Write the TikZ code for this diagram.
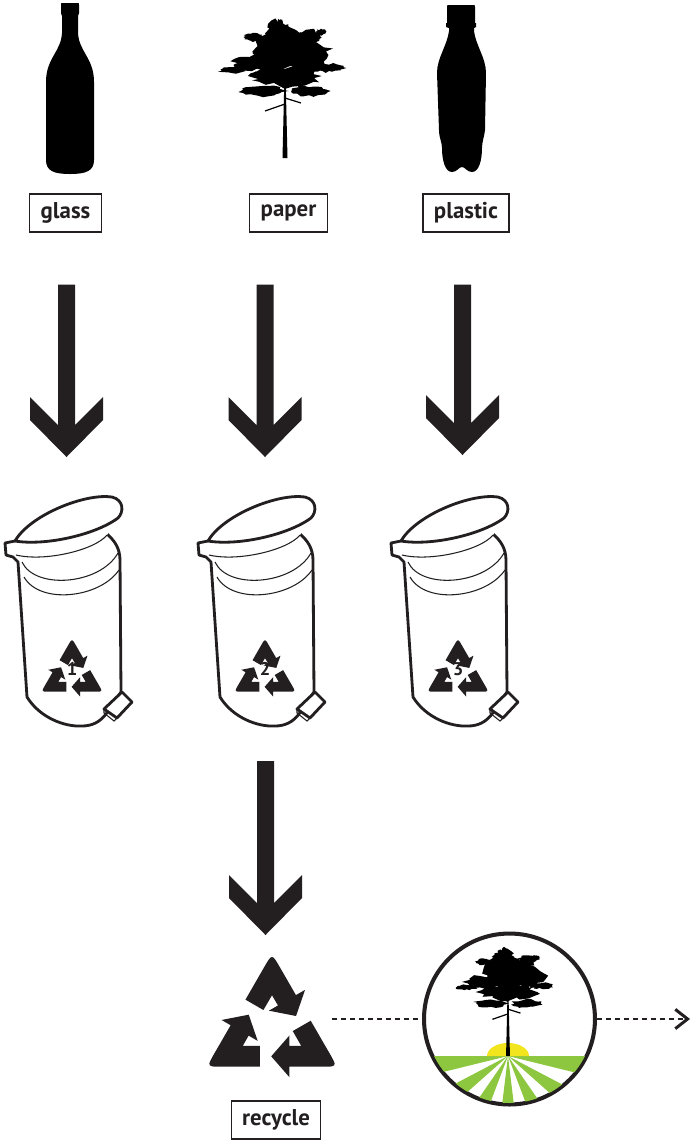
\documentclass[tikz,border=0pt]{standalone}
\usepackage{fontspec}
\setmainfont{PT Sans}
\usetikzlibrary{calc,arrows.meta}

\definecolor{ink}{HTML}{231F20}
\definecolor{grass}{HTML}{8DC63F}
\definecolor{sun}{HTML}{F2E51D}

\begin{document}
\pgfmathsetseed{11}
\begin{tikzpicture}[x=0.02cm, y=-0.02cm,
tag/.style={draw=ink, line width=0.7pt, text=ink, font=\bfseries\fontsize{13pt}{15pt}\selectfont, inner xsep=6.2pt, minimum height=0.76cm},
bigarrow/.style={fill=ink, to path={let \p1=(\tikztostart), \p2=(\tikztotarget) in
  ($(\x2,\y1)+(-8.5,#1)$) -- ($(\p2)+(-8.5,-32)$) -- ++(-28,-28) -- ++(0,23) -- (\p2)
  -- ++(36.5,-37) -- ++(0,-23) -- ++(-28,28) -- ($(\x2,\y1)+(8.5,#1)$) -- cycle}},
bigarrow/.default=52,
dashline/.style={ink, line width=0.7pt, dash pattern=on 2.8pt off 2.3pt},
thickline/.style={ink, line width=1.6pt, line join=round},
thinline/.style={ink, line width=0.6pt},
recycle/.pic={
  \begin{scope}[y=0.02cm]
  \foreach \r in {0,-120,-240}
    \fill[ink, rotate=\r] (-20.4,22.6) -- (-6,47.6) .. controls (0,58) .. (6,47.6)
      -- (18.4,26.1) -- (25.4,30.1) -- (18.5,10.0) -- (-2.4,14.1) -- (4.6,18.1)
      -- (0,26) -- (-6.6,14.6) -- cycle;
  \end{scope}
},
tree/.pic={
  \begin{scope}[y=0.02cm]
  \fill (-2.5,0) -- (-0.8,72) -- (0.8,72) -- (2.5,0) -- cycle;
  \draw[line width=0.7pt] (0,54) -- (-20,47) (0,60) -- (16,55) (0,70) -- (-30,86) (0,72) -- (34,90);
  \foreach \px/\py/\lx/\ly in {-5/112/28/19, 15/103/32/15, -28/95/26/8, -53/88/14/3,
      44/90/15/4, 0/82/36/10, -22/67/22/5, 24/67/19/5, -6/127/13/10, 24/122/12/7,
      -32/121/9/4, -5/135/3/4, 36/126/5/3}
    \fill plot[domain=0:345, samples=24]
      ({\px+\lx*(0.75+0.45*rnd)*cos(\x)}, {\py+\ly*(0.7+0.6*rnd)*sin(\x)}) -- cycle;
  \end{scope}
},
bin/.pic={
  \draw[thickline, fill=white] (15,541) -- (5,543) -- (6,555) -- (13,557) -- (18,562)
    -- (27,697) .. controls (40,718) and (65,727) .. (82,726)
    .. controls (92,726) and (100,722) .. (106,714) -- (121,692) -- (120,560)
    .. controls (120,548) and (114,540) .. (107,534) -- cycle;
  \draw[thinline] (22,562) .. controls (35,590) and (100,585) .. (118,553);
  \draw[thinline] (24,577) .. controls (40,605) and (100,598) .. (119,570);
  \fill[white] (15,541) -- (16,555) .. controls (45,562) and (95,550) .. (107,535)
    -- (118,518) -- cycle;
  \draw[thinline] (16,555) .. controls (45,562) and (95,550) .. (107,535);
  \draw[thickline, fill=white] (15,541) .. controls (30,515) and (85,493) .. (112,497)
    .. controls (124,500) and (124,512) .. (118,518)
    .. controls (95,535) and (45,546) .. (15,541) -- cycle;
  \draw[thickline, fill=white] (104,709) -- (122,692) -- (132,702) -- (117,718) -- cycle;
  \draw[thinline] (104,709) -- (104,713) -- (114,721) -- (117,718);
  \pic[scale=0.61] at (72,674) {recycle};
  \node[text=ink, font=\bfseries\fontsize{10.5pt}{12pt}\selectfont] at (72,669) {#1};
  \coordinate (-foot) at (82,727);
}
]
\useasboundingbox (0,0) rectangle (696,1144);

% glass bottle
\fill (63,3) -- (77,3) .. controls (79,3) .. (79,5) -- (79,13) -- (78,16) -- (78,33)
  .. controls (79,52) and (94,58) .. (94,82) -- (94,160)
  .. controls (94,171) and (86,174) .. (70,174)
  .. controls (54,174) and (46,171) .. (46,160) -- (46,82)
  .. controls (46,58) and (61,52) .. (62,33) -- (62,16) -- (61,13) -- (61,5)
  .. controls (61,3) .. (63,3) -- cycle;
% paper tree
\pic at (285,158) {tree};
% plastic bottle
\fill (447,7) .. controls (447,5) .. (450,5) -- (472,5) .. controls (475,5) .. (475,7)
  -- (475,23) -- (476,23) -- (476,27) -- (474,28) -- (474,31)
  .. controls (476,46) and (486,58) .. (486,73) -- (485,130)
  .. controls (484,138) and (482,142) .. (482,148)
  .. controls (482,160) and (479,172) .. (472,172)
  .. controls (467,172) and (465,167) .. (462,167)
  .. controls (459,167) and (457,172) .. (452,172)
  .. controls (445,172) and (442,160) .. (442,148)
  .. controls (442,142) and (439,138) .. (439,130) -- (437,73)
  .. controls (437,58) and (447,46) .. (449,31) -- (449,28) -- (446,27)
  -- (446,23) -- (447,23) -- cycle;

\node[tag] (glass)   at (65.5,213) {glass};
\node[tag] (paper)   at (288.5,213) {paper};
\node[tag] (plastic) at (466,213) {plastic};

\pic (bin1) at (0,0) {bin=1};
\pic (bin2) at (193,0) {bin=2};
\pic (bin3) at (386,0) {bin=3};

\coordinate (drop1) at (66.5,457);
\coordinate (drop2) at (265,457);
\coordinate (drop3) at (462.5,455);
\coordinate (drop4) at (265.5,935);

\path[bigarrow] (glass.south) to (drop1);
\path[bigarrow] (paper.south) to (drop2);
\path[bigarrow] (plastic.south) to (drop3);
\path[bigarrow=34] (bin2-foot) to (drop4);

\node[circle, minimum size=2.4cm] (recycle) at (272,1019) {};
\pic[scale=1.3] at (272,1029) {recycle};
\node[tag] (label) at (276,1120) {recycle};

\node[circle, draw=ink, line width=2.3pt, minimum size=3.42cm] (earth) at (509.5,1019) {};
\begin{scope}
  \clip (earth.center) circle[radius=84];
  \foreach \i in {0,2,...,12}
    \fill[grass] (508,1056) -- +(\i*180/13:130) -- +(\i*180/13+180/13:130) -- cycle;
\end{scope}
\fill[sun] (487,1056) arc[start angle=180, end angle=360, x radius=21, y radius=13] -- cycle;
\pic[scale=0.78] at (508,1056) {tree};

\coordinate (next) at (690,1019);
\draw[dashline] (recycle) -- (earth);
\draw[dashline, -{Straight Barb[length=7pt, width=11pt, line width=1.7pt]}] (earth) -- (next);

\end{tikzpicture}
\end{document}
